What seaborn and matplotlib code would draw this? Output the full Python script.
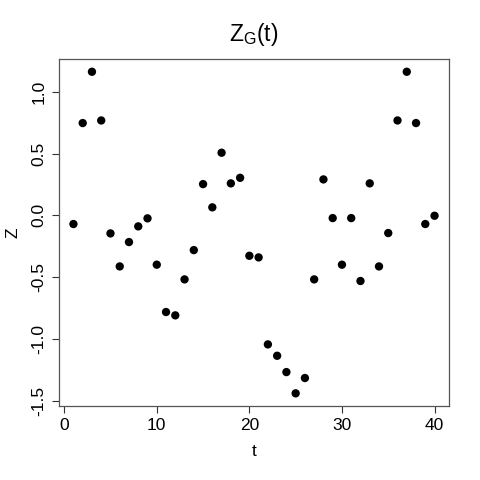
import matplotlib
matplotlib.use("Agg")
import matplotlib.pyplot as plt
import seaborn as sns
import pandas as pd

t = list(range(1, 41))
z = [-0.070, 0.747, 1.162, 0.768, -0.146, -0.413, -0.216, -0.089, -0.024, -0.399,
     -0.782, -0.809, -0.518, -0.281, 0.253, 0.065, 0.507, 0.259, 0.304, -0.327,
     -0.340, -1.044, -1.136, -1.268, -1.440, -1.316, -0.518, 0.291, -0.022, -0.399,
     -0.022, -0.531, 0.259, -0.413, -0.143, 0.768, 1.162, 0.747, -0.070, -0.003]
xticks = [0, 10, 20, 30, 40]
yticks = [-1.5, -1.0, -0.5, 0.0, 0.5, 1.0]
yticklabels = ["-1.5", "-1.0", "-0.5", "0.0", "0.5", "1.0"]

sns.set_theme(style="ticks")
plt.rcParams['font.family'] = ['Liberation Sans', 'DejaVu Sans']
plt.rcParams['text.color'] = 'black'
plt.rcParams['axes.labelcolor'] = 'black'

df = pd.DataFrame({"t": t, "Z": z})
fig = plt.figure(figsize=(4.8, 4.8), dpi=100)
ax = fig.add_axes([0.1229, 0.1548, 0.8125, 0.7222])
sns.scatterplot(data=df, x="t", y="Z", color="black", s=36, edgecolor="none", ax=ax)

ax.set_xlim(-0.56, 41.56)
ax.set_ylim(-1.540, 1.265)
ax.set_xticks(xticks)
ax.set_xticklabels([str(v) for v in xticks])
ax.set_yticks(yticks)
ax.set_yticklabels(yticklabels, rotation=90, va="center")
ax.tick_params(axis="both", length=5, width=0.8, color="#333333", labelsize=12.5,
               labelcolor="black", pad=4)
for s in ax.spines.values():
    s.set_color("#555555")
    s.set_linewidth(0.9)
ax.set_xlabel("t", fontsize=12.5, labelpad=8, color="black")
ax.set_ylabel("Z", fontsize=12.5, labelpad=8, color="black")
ax.set_title(r"Z$_\mathregular{G}$(t)", fontsize=16.5, pad=13, color="black")

fig.savefig("out.png", dpi=100)
